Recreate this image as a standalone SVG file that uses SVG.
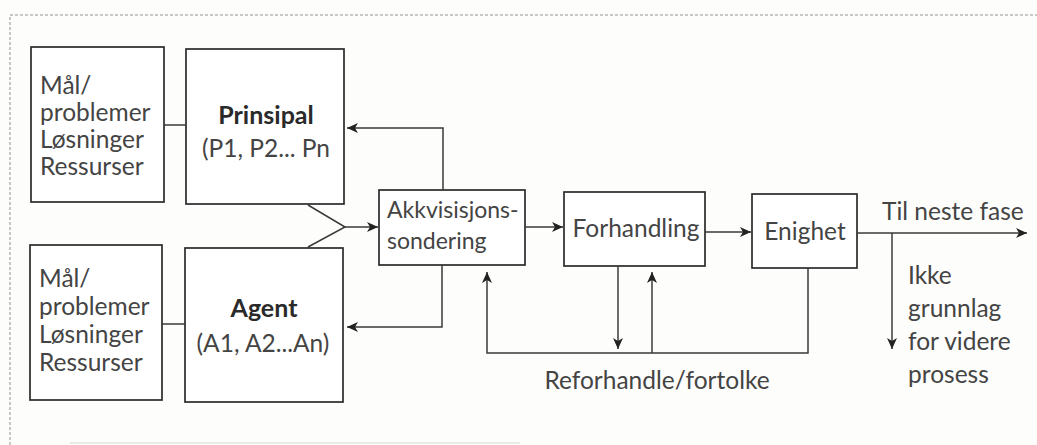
<svg xmlns="http://www.w3.org/2000/svg" width="1037" height="445" viewBox="0 0 1037 445">
<style>
.bg{fill:#fdfdfb}
.box{fill:#fff;stroke:#2b2b2b;stroke-width:1.7}
.ln{fill:none;stroke:#3a3a3a;stroke-width:1.5}
.frame{fill:none;stroke:#b5b5b5;stroke-width:1.5;stroke-dasharray:3 2}
text{font-family:Lato,"Open Sans","Liberation Sans",sans-serif;font-size:24.5px;fill:#444}
.b{font-weight:bold;fill:#2a2a2a;font-size:25px}
.s{font-size:23px}
.m{text-anchor:middle}
</style>
<defs>
<marker id="ah" markerUnits="userSpaceOnUse" markerWidth="12" markerHeight="10" refX="11" refY="5" orient="auto">
<path d="M0,0 L11,5 L0,10 L3,5 z" fill="#222"/>
</marker>
</defs>
<rect class="bg" x="0" y="0" width="1037" height="445"/>
<path class="frame" d="M10,445 V15 H1037"/>
<line x1="70" y1="443" x2="520" y2="443" stroke="#e3e3e3" stroke-width="1.5"/>

<g id="maal1">
<rect class="box" x="31" y="47" width="133" height="155"/>
<text x="40" y="94">Mål/</text>
<text x="40" y="121">problemer</text>
<text x="40" y="148">Løsninger</text>
<text x="40" y="175">Ressurser</text>
</g>
<g id="prinsipal">
<rect class="box" x="186" y="49" width="158" height="155"/>
<text class="b m" x="266" y="124">Prinsipal</text>
<text class="m" x="266" y="157">(P1, P2... Pn</text>
</g>
<g id="maal2">
<rect class="box" x="30" y="245" width="132" height="155"/>
<text x="39" y="287">Mål/</text>
<text x="39" y="315">problemer</text>
<text x="39" y="343">Løsninger</text>
<text x="39" y="371">Ressurser</text>
</g>
<g id="agent">
<rect class="box" x="185" y="248" width="158" height="154"/>
<text class="b m" x="264" y="317">Agent</text>
<text class="m" x="263" y="352">(A1, A2...An)</text>
</g>
<g id="akkvisisjon">
<rect class="box" x="379" y="190" width="146" height="75"/>
<text class="s" x="387" y="218">Akkvisisjons-</text>
<text class="s" x="387" y="249">sondering</text>
</g>
<g id="forhandling">
<rect class="box" x="564" y="192" width="141" height="74"/>
<text class="m" x="636" y="237">Forhandling</text>
</g>
<g id="enighet">
<rect class="box" x="752" y="194" width="105" height="74"/>
<text class="m" x="805" y="240">Enighet</text>
</g>

<g id="labels">
<text x="882" y="220">Til neste fase</text>
<text x="908" y="284">Ikke</text>
<text x="908" y="317">grunnlag</text>
<text x="908" y="350">for videre</text>
<text x="908" y="383">prosess</text>
<text class="m" x="657" y="389">Reforhandle/fortolke</text>
</g>

<g id="connectors">
<line class="ln" x1="164" y1="125" x2="186" y2="125"/>
<line class="ln" x1="162" y1="324" x2="185" y2="324"/>
<path class="ln" d="M308,205 L345,227 L308,247"/>
<path class="ln" d="M345,227 H378" marker-end="url(#ah)"/>
<path class="ln" d="M443,190 V128 H347" marker-end="url(#ah)"/>
<path class="ln" d="M442,265 V327 H347" marker-end="url(#ah)"/>
<path class="ln" d="M525,227 H563" marker-end="url(#ah)"/>
<path class="ln" d="M705,232 H751" marker-end="url(#ah)"/>
<path class="ln" d="M857,233 H1027" marker-end="url(#ah)"/>
<path class="ln" d="M892,233 V349" marker-end="url(#ah)"/>
<path class="ln" d="M808,268 V353 H487 V272" marker-end="url(#ah)"/>
<path class="ln" d="M618,266 V349" marker-end="url(#ah)"/>
<path class="ln" d="M652,353 V272" marker-end="url(#ah)"/>
</g>
</svg>
